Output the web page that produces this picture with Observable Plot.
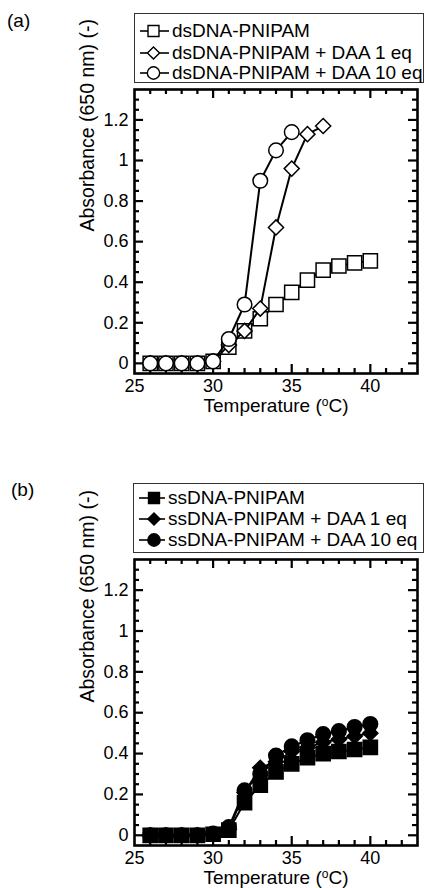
<!DOCTYPE html>
<html><head><meta charset="utf-8">
<script src="https://cdn.jsdelivr.net/npm/d3@7"></script>
<script src="https://cdn.jsdelivr.net/npm/@observablehq/plot@0.6"></script>
<style>
body{margin:0;background:#fff;font-family:"Liberation Sans",Arial,sans-serif;color:#000;}
#root{position:relative;width:425px;height:888px;overflow:hidden;}
.panel-label{position:absolute;font-size:19px;line-height:19px;}
.legend{position:absolute;border:1px solid #333;background:#fff;box-sizing:border-box;}
.row{position:absolute;height:20px;display:flex;align-items:center;font-size:19px;white-space:nowrap;}
.row svg{position:absolute;top:0;}
.plot{position:absolute;left:0;}
</style></head><body><div id="root"></div>
<script>
// ---- data ----
const temps = [26,27,28,29,30,31,32,33,34,35,36,37,38,39,40];

// panel (a) dsDNA
const dsLabels = ["dsDNA-PNIPAM", "dsDNA-PNIPAM + DAA 1 eq", "dsDNA-PNIPAM + DAA 10 eq"];
const dsPlain  = [0, 0, 0, 0, 0.01, 0.08, 0.16, 0.22, 0.29, 0.35, 0.41, 0.46, 0.48, 0.495, 0.505];
const dsDAA1   = [0, 0, 0, 0, 0.01, 0.09, 0.16, 0.27, 0.67, 0.96, 1.13, 1.17];
const dsDAA10  = [0, 0, 0, 0, 0.01, 0.12, 0.29, 0.90, 1.05, 1.14];

// panel (b) ssDNA
const ssLabels = ["ssDNA-PNIPAM", "ssDNA-PNIPAM + DAA 1 eq", "ssDNA-PNIPAM + DAA 10 eq"];
const ssPlain  = [0, 0, 0, 0, 0.005, 0.025, 0.16, 0.245, 0.31, 0.35, 0.38, 0.40, 0.41, 0.42, 0.43];
const ssDAA1   = [0, 0, 0, 0, 0.005, 0.03, 0.21, 0.33, 0.36, 0.41, 0.43, 0.455, 0.47, 0.485, 0.50];
const ssDAA10  = [0, 0, 0, 0, 0.008, 0.04, 0.22, 0.30, 0.39, 0.435, 0.465, 0.495, 0.51, 0.53, 0.545];

const symbols = ["square", "diamond2", "circle"];

// axes
const xDomain = [25, 43];
const yDomain = [-0.05, 1.35];
const xTicks = [25, 30, 35, 40];
const xMinor = [26,27,28,29,31,32,33,34,36,37,38,39,41,42];
const xMajor = [30, 35, 40];
const yTicks = [0, 0.2, 0.4, 0.6, 0.8, 1, 1.2];
const yMinor = [0.05,0.1,0.15,0.25,0.3,0.35,0.45,0.5,0.55,0.65,0.7,0.75,0.85,0.9,0.95,1.05,1.1,1.15,1.25,1.3];
const xLabel = "Temperature (oC)";
const yLabel = "Absorbance (650 nm) (-)";

const root = document.getElementById("root");
const FONT = '"Liberation Sans", Arial, sans-serif';

function rowsOf(vals){ return vals.map((v,i)=>({t: temps[i], v})); }

function panel({series, fill, top, height, mt, mb, order}) {
  const W = 425, ML = 134, MR = 8;
  const innerH = height - mt - mb, innerW = W - ML - MR;
  const tk = {stroke: "black", strokeWidth: 2.2};
  const marks = [
    Plot.tickX(xMinor, {x: d=>d, insetTop: innerH - 5, ...tk}),
    Plot.tickX(xMajor, {x: d=>d, insetTop: innerH - 9, ...tk}),
    Plot.tickX(xMinor, {x: d=>d, insetBottom: innerH - 5, ...tk}),
    Plot.tickX(xMajor, {x: d=>d, insetBottom: innerH - 9, ...tk}),
    Plot.tickY(yMinor, {y: d=>d, insetRight: innerW - 5, ...tk}),
    Plot.tickY(yTicks, {y: d=>d, insetRight: innerW - 9, ...tk}),
    Plot.tickY(yMinor, {y: d=>d, insetLeft: innerW - 5, ...tk}),
    Plot.tickY(yTicks, {y: d=>d, insetLeft: innerW - 9, ...tk}),
    Plot.frame({stroke: "black", strokeWidth: 2.6}),
    Plot.axisX({ticks: xTicks, tickSize: 0, tickPadding: 5.5, fontSize: 18, label: null, tickFormat: d=>String(d)}),
    Plot.axisY({ticks: yTicks, tickSize: 0, tickPadding: 6, fontSize: 18, label: null, tickFormat: d=>String(d)}),
    Plot.text([xLabel], {text: d=>d, frameAnchor: "bottom", dy: 38, fontSize: 19, fill: "black"}),
    Plot.text([yLabel], {text: d=>d, frameAnchor: "left", rotate: -90, dx: -47, fontSize: 19.5, fill: "black"})
  ];
  const sizes = {square: 8, diamond2: 6.8, circle: 7.3};
  for (const i of order) {
    const data = rowsOf(series[i]);
    marks.push(Plot.line(data, {x: "t", y: "v", stroke: "black", strokeWidth: 2}));
    marks.push(Plot.dot(data, {x: "t", y: "v", symbol: symbols[i], r: sizes[symbols[i]], fill, stroke: "black", strokeWidth: 1.5}));
  }
  const p = Plot.plot({
    width: W, height, marginLeft: ML, marginRight: MR, marginTop: mt, marginBottom: mb,
    x: {domain: xDomain}, y: {domain: yDomain},
    style: {fontFamily: FONT, fontSize: "18px", background: "transparent", overflow: "visible", color: "black"},
    marks
  });
  p.classList.add("plot");
  p.style.top = top + "px";
  d3.select(p).selectAll("text").each(function(){
    if (this.textContent === xLabel) {
      this.innerHTML = 'Temperature (<tspan dy="-6" font-size="12">o</tspan><tspan dy="6">C)</tspan>';
    }
  });
  root.appendChild(p);
}

function legend({labels, fill, left, top, rowY, symX, textX}) {
  const box = document.createElement("div");
  box.className = "legend";
  Object.assign(box.style, {left: left + "px", top: top + "px", width: (424 - left) + "px", height: "70px"});
  const sz = {square: 120, diamond2: 95, circle: 120};
  labels.forEach((lab, i) => {
    const row = document.createElement("div");
    row.className = "row";
    row.style.top = (rowY[i] - 10) + "px";
    row.style.left = "0px";
    row.style.width = "100%";
    const s = d3.create("svg").attr("width", 40).attr("height", 20).style("left", "0px");
    s.append("line").attr("x1", 5).attr("x2", textX - 3).attr("y1", 10).attr("y2", 10).attr("stroke", "black").attr("stroke-width", 1.6);
    const symMap = {square: d3.symbolSquare, diamond2: d3.symbolDiamond2, circle: d3.symbolCircle};
    s.append("path").attr("d", d3.symbol(symMap[symbols[i]], sz[symbols[i]])())
      .attr("transform", `translate(${symX},10)`).attr("fill", fill).attr("stroke", "black").attr("stroke-width", 1.4);
    row.appendChild(s.node());
    const t = document.createElement("span");
    t.textContent = lab;
    t.style.position = "absolute";
    t.style.left = textX + "px";
    row.appendChild(t);
    box.appendChild(row);
  });
  root.appendChild(box);
}

function label(txt, left, top) {
  const d = document.createElement("div");
  d.className = "panel-label";
  d.textContent = txt;
  d.style.left = left + "px"; d.style.top = top + "px";
  root.appendChild(d);
}

// panel (a)
label("(a)", 7, 11);
legend({labels: dsLabels, fill: "white", left: 134, top: 13, rowY: [17, 38.5, 58.5], symX: 18.5, textX: 37});
panel({series: [dsPlain, dsDAA1, dsDAA10], fill: "white", top: 85, height: 345, mt: 4, mb: 57, order: [0,1,2]});

// panel (b)
label("(b)", 11, 479.5);
legend({labels: ssLabels, fill: "black", left: 133, top: 483, rowY: [14, 35, 55.5], symX: 20, textX: 34});
panel({series: [ssPlain, ssDAA1, ssDAA10], fill: "black", top: 555, height: 333, mt: 4, mb: 43, order: [2,1,0]});
</script>
</body></html>
